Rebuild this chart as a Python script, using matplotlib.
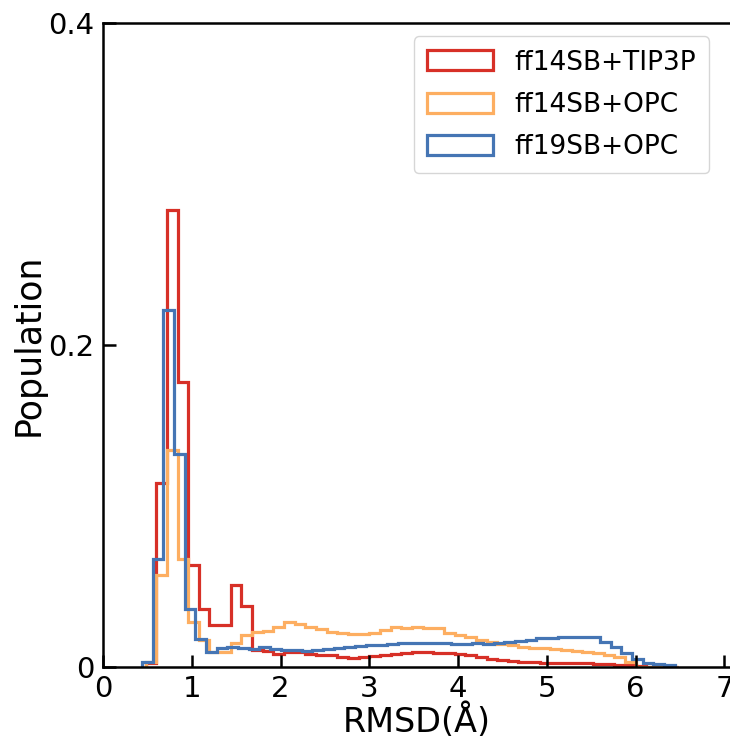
"""
RMSD population histograms for three force field / water model combinations
"""

import numpy as np
from matplotlib import pyplot as plt
from matplotlib.patches import Patch

# bins: width 0.12 A
binWidth = 0.12
startA = 0.48   # ff14SB runs
startB = 0.44   # ff19SB run

labels = ["ff14SB+TIP3P", "ff14SB+OPC", "ff19SB+OPC"]
colors = ["#d73027", "#fdae61", "#4575b4"]

ff14_tip3p = [0.002, 0.114, 0.284, 0.177, 0.063, 0.036, 0.026, 0.026, 0.051, 0.038,
              0.0104, 0.0098, 0.008, 0.009, 0.009, 0.008, 0.0075, 0.007, 0.006, 0.0057,
              0.006, 0.0065, 0.007, 0.008, 0.0085, 0.009, 0.009, 0.0088, 0.0085, 0.008,
              0.007, 0.006, 0.005, 0.0042, 0.0035, 0.003, 0.0027, 0.0025, 0.002, 0.002,
              0.002, 0.002, 0.0018, 0.0015, 0.0012, 0.0008, 0.0004, 0.0, 0.0, 0.0]

ff14_opc = [0.003, 0.057, 0.135, 0.067, 0.028, 0.0166, 0.0093, 0.0093, 0.0145, 0.0197,
            0.0215, 0.0225, 0.0249, 0.028, 0.0265, 0.0249, 0.0236, 0.0218, 0.0207, 0.0205,
            0.0205, 0.021, 0.023, 0.0249, 0.0238, 0.0249, 0.0238, 0.0238, 0.0212, 0.0197,
            0.0183, 0.0166, 0.0156, 0.0141, 0.0135, 0.0124, 0.0118, 0.0114, 0.0108, 0.0104,
            0.0098, 0.009, 0.0083, 0.0073, 0.0058, 0.003, 0.0, 0.0, 0.0, 0.0]

ff19_opc = [0.003, 0.067, 0.222, 0.132, 0.036, 0.017, 0.0093, 0.0114, 0.012, 0.0115,
            0.011, 0.0124, 0.0108, 0.0104, 0.0104, 0.010, 0.0104, 0.0108, 0.0115, 0.0124,
            0.013, 0.0135, 0.0135, 0.014, 0.0145, 0.0145, 0.015, 0.0145, 0.0145, 0.014,
            0.014, 0.0145, 0.014, 0.0145, 0.0155, 0.016, 0.0166, 0.0176, 0.018, 0.0187,
            0.0187, 0.0183, 0.0185, 0.0156, 0.0124, 0.0083, 0.0046, 0.0025, 0.0017, 0.0012]

series = [ff14_tip3p, ff14_opc, ff19_opc]
starts = [startA, startA, startB]

fig = plt.figure(figsize=(7.3, 7.38), dpi=100)
ax = fig.add_axes([0.141, 0.0966, 0.859, 0.872])

handles = []
for vals, s, c, lab in zip(series, starts, colors, labels):
    edges = s + binWidth * np.arange(len(vals) + 1)
    ax.stairs(vals, edges, color=c, linewidth=2.3)
    handles.append(Patch(facecolor="none", edgecolor=c, linewidth=2.3, label=lab))

ax.set_xlim(0, 7.062)
ax.set_ylim(0, 0.4)
ax.set_xticks(range(8))
ax.set_yticks([0, 0.2, 0.4])
ax.set_yticklabels(["0", "0.2", "0.4"])
ax.tick_params(direction="in", length=9, width=1.8, labelsize=21, pad=6)
ax.spines["right"].set_visible(False)
for sp in ["left", "bottom", "top"]:
    ax.spines[sp].set_linewidth(1.8)

ax.set_xlabel("RMSD(Å)", fontsize=24, labelpad=0)
ax.set_ylabel("Population", fontsize=25, labelpad=2)

ax.legend(handles=handles, loc="upper right", fontsize=19, handlelength=2.5,
          handleheight=0.8, labelspacing=0.62, borderpad=0.5,
          bbox_to_anchor=(0.988, 1.0))

fig.savefig("out.png", dpi=100)
